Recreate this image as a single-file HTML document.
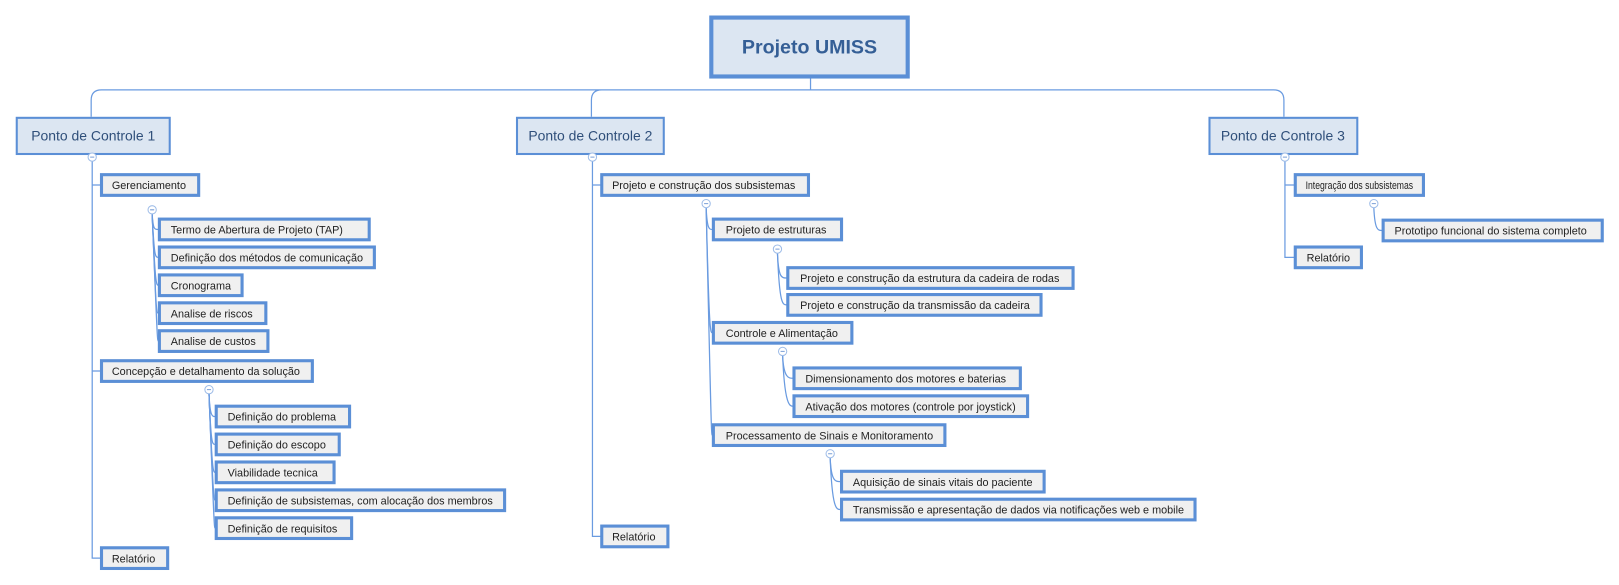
<!DOCTYPE html>
<html><head><meta charset="utf-8"><style>
html,body{margin:0;padding:0;background:#fff;}
svg{display:block}
text{font-family:"Liberation Sans","DejaVu Sans",sans-serif;fill:#222;}
.c{fill:#f0f0f0;stroke:#5b8fd6;stroke-width:3}
.ct{font-size:10.5px}
.l{fill:none;stroke:#6a9be0;stroke-width:1.2}
.o{fill:#fff;stroke:#9fbde8;stroke-width:1}
</style></head><body>
<svg width="1619" height="585" viewBox="0 0 1566 566" xmlns="http://www.w3.org/2000/svg">
<path class="l" d="M784,76 V87 M88,113 V97 Q88,87 98,87 H1232 Q1242,87 1242,97 V113 M572,113 V97 Q572,87 582,87"/>
<rect x="688" y="17" width="190" height="57" fill="#dce6f2" stroke="#5b8fd6" stroke-width="4"/>
<text x="783" y="52" text-anchor="middle" font-size="19" font-weight="bold" style="fill:#355f96">Projeto UMISS</text>

<rect x="16" y="114" width="148" height="35" fill="#dce6f2" stroke="#5b8fd6" stroke-width="2"/>
<text x="90" y="136" text-anchor="middle" font-size="13.5" style="fill:#2f4f7a">Ponto de Controle 1</text>
<rect x="500" y="114" width="142" height="35" fill="#dce6f2" stroke="#5b8fd6" stroke-width="2"/>
<text x="571" y="136" text-anchor="middle" font-size="13.5" style="fill:#2f4f7a">Ponto de Controle 2</text>
<rect x="1170" y="114" width="143" height="35" fill="#dce6f2" stroke="#5b8fd6" stroke-width="2"/>
<text x="1241" y="136" text-anchor="middle" font-size="13.5" style="fill:#2f4f7a">Ponto de Controle 3</text>

<path class="l" d="M89,156 V540 H97 M89,179 H97 M89,359 H97"/>
<path class="l" d="M573,156 V519 H581 M573,179 H581"/>
<path class="l" d="M1243,156 V249 H1252 M1243,179 H1252"/>

<g class="l">
<path d="M147,207 C148,222 149,222 153,222"/>
<path d="M147,207 C149,249 150,249 153,249"/>
<path d="M147,207 C150,276 151,276 153,276"/>
<path d="M147,207 C151,303 151,303 153,303"/>
<path d="M147,207 C152,330 152,330 153,330"/>
<path d="M202,381 C203,403 205,403 208,403"/>
<path d="M202,381 C204,430 205,430 208,430"/>
<path d="M202,381 C205,457 206,457 208,457"/>
<path d="M202,381 C206,484 207,484 208,484"/>
<path d="M202,381 C207,511 207,511 208,511"/>
<path d="M683,201 C684,222 686,222 689,222"/>
<path d="M683,201 C686,322 687,322 689,322"/>
<path d="M683,201 C688,421 688,421 689,421"/>
<path d="M752,245 C753,269 756,269 761,269"/>
<path d="M752,245 C754,295 757,295 761,295"/>
<path d="M757,344 C758,366 763,366 767,366"/>
<path d="M757,344 C759,393 764,393 767,393"/>
<path d="M803,443 C804,466 808,466 813,466"/>
<path d="M803,443 C805,493 809,493 813,493"/>
<path d="M1329,201 C1330,223 1333,223 1337,223"/>
</g>

<g>
<circle class="o" cx="89" cy="152" r="4"/><circle class="o" cx="573" cy="152" r="4"/><circle class="o" cx="1243" cy="152" r="4"/>
<circle class="o" cx="147" cy="203" r="4"/><circle class="o" cx="202" cy="377" r="4"/>
<circle class="o" cx="683" cy="197" r="4"/><circle class="o" cx="752" cy="241" r="4"/>
<circle class="o" cx="757" cy="340" r="4"/><circle class="o" cx="803" cy="439" r="4"/>
<circle class="o" cx="1329" cy="197" r="4"/>
</g>
<path stroke="#7a9fd6" stroke-width="1" d="M87,152h4M571,152h4M1241,152h4M145,203h4M200,377h4M681,197h4M750,241h4M755,340h4M801,439h4M1327,197h4"/>

<g>
<rect class="c" x="98" y="169" width="94" height="20"/><text class="ct" x="108" y="183">Gerenciamento</text>
<rect class="c" x="154" y="212" width="203" height="20"/><text class="ct" x="165" y="226">Termo de Abertura de Projeto (TAP)</text>
<rect class="c" x="154" y="239" width="208" height="20"/><text class="ct" x="165" y="253">Definição dos métodos de comunicação</text>
<rect class="c" x="154" y="266" width="80" height="20"/><text class="ct" x="165" y="280">Cronograma</text>
<rect class="c" x="154" y="293" width="103" height="20"/><text class="ct" x="165" y="307">Analise de riscos</text>
<rect class="c" x="154" y="320" width="105" height="20"/><text class="ct" x="165" y="334">Analise de custos</text>
<rect class="c" x="98" y="349" width="204" height="20"/><text class="ct" x="108" y="363">Concepção e detalhamento da solução</text>
<rect class="c" x="209" y="393" width="129" height="20"/><text class="ct" x="220" y="407">Definição do problema</text>
<rect class="c" x="209" y="420" width="119" height="20"/><text class="ct" x="220" y="434">Definição do escopo</text>
<rect class="c" x="209" y="447" width="114" height="20"/><text class="ct" x="220" y="461">Viabilidade tecnica</text>
<rect class="c" x="209" y="474" width="279" height="20"/><text class="ct" x="220" y="488">Definição de subsistemas, com alocação dos membros</text>
<rect class="c" x="209" y="501" width="131" height="20"/><text class="ct" x="220" y="515">Definição de requisitos</text>
<rect class="c" x="98" y="530" width="64" height="20"/><text class="ct" x="108" y="544">Relatório</text>

<rect class="c" x="582" y="169" width="200" height="20"/><text class="ct" x="592" y="183">Projeto e construção dos subsistemas</text>
<rect class="c" x="690" y="212" width="124" height="20"/><text class="ct" x="702" y="226">Projeto de estruturas</text>
<rect class="c" x="762" y="259" width="276" height="20"/><text class="ct" x="774" y="273">Projeto e construção da estrutura da cadeira de rodas</text>
<rect class="c" x="762" y="285" width="245" height="20"/><text class="ct" x="774" y="299">Projeto e construção da transmissão da cadeira</text>
<rect class="c" x="690" y="312" width="134" height="20"/><text class="ct" x="702" y="326">Controle e Alimentação</text>
<rect class="c" x="768" y="356" width="219" height="20"/><text class="ct" x="779" y="370">Dimensionamento dos motores e baterias</text>
<rect class="c" x="768" y="383" width="226" height="20"/><text class="ct" x="779" y="397">Ativação dos motores (controle por joystick)</text>
<rect class="c" x="690" y="411" width="224" height="20"/><text class="ct" x="702" y="425">Processamento de Sinais e Monitoramento</text>
<rect class="c" x="814" y="456" width="196" height="20"/><text class="ct" x="825" y="470">Aquisição de sinais vitais do paciente</text>
<rect class="c" x="814" y="483" width="342" height="20"/><text class="ct" x="825" y="497">Transmissão e apresentação de dados via notificações web e mobile</text>
<rect class="c" x="582" y="509" width="64" height="20"/><text class="ct" x="592" y="523">Relatório</text>

<rect class="c" x="1253" y="169" width="124" height="20"/><text class="ct" x="1263" y="183" textLength="104" lengthAdjust="spacingAndGlyphs">Integração dos subsistemas</text>
<rect class="c" x="1338" y="213" width="212" height="20"/><text class="ct" x="1349" y="227">Prototipo funcional do sistema completo</text>
<rect class="c" x="1253" y="239" width="64" height="20"/><text class="ct" x="1264" y="253">Relatório</text>
</g>
</svg>
</body></html>
